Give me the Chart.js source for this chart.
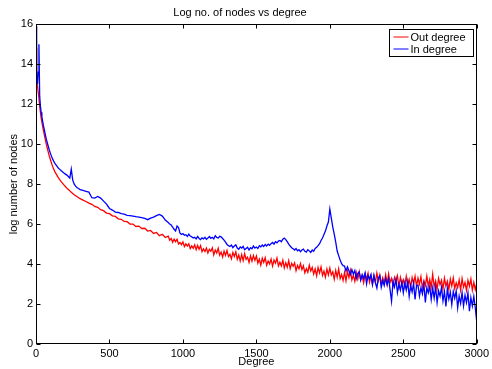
<!DOCTYPE html>
<html>
<head>
<meta charset="utf-8">
<script src="https://cdn.jsdelivr.net/npm/chart.js@4.4.0/dist/chart.umd.min.js"></script>
<style>
  html, body { margin: 0; padding: 0; background: #fff; }
  #wrap { width: 492px; height: 369px; }
</style>
</head>
<body>
<div id="wrap"><canvas id="chart" width="492" height="369"></canvas></div>
<script>
// --- data ---
const degrees = [
  1,3,6,10,15,20,25,30,35,40,50,60,70,80,90,100,110,120,130,140,150,160,170,180,190,200,
  210,220,230,240,250,260,270,280,290,300,
  320,340,360,380,400,420,440,460,480,500,
  520,540,560,580,600,620,640,660,680,700,
  720,740,760,780,800,820,840,860,880,
  900,910,920,930,940,950,960,970,980,990,
  1000,1010,1020,1030,1040,1050,1060,1070,1080,1090,
  1100,1110,1120,1130,1140,1150,1160,1170,1180,1190,
  1200,1210,1220,1230,1240,1250,1260,1270,1280,1290,
  1300,1310,1320,1330,1340,1350,1360,1370,1380,1390,
  1400,1410,1420,1430,1440,1450,1460,1470,1480,1490,
  1500,1510,1520,1530,1540,1550,1560,1570,1580,1590,
  1600,1610,1620,1630,1640,1650,1660,1670,1680,1690,
  1700,1710,1720,1730,1740,1750,1760,1770,1780,1790,
  1800,1810,1820,1830,1840,1850,1860,1870,1880,1890,
  1900,1910,1920,1930,1940,1950,1960,1970,1980,1990,
  2000,2010,2020,2030,2040,2050,2060,2070,2080,2090,
  2100,2110,2120,2130,2140,2150,2160,2170,2180,2190,
  2200,2210,2220,2230,2240,2250,2260,2270,2280,2290,
  2300,2310,2320,2330,2340,2350,2360,2370,2380,2390,
  2400,2410,2420,2430,2440,2450,2460,2470,2480,2490,
  2500,2510,2520,2530,2540,2550,2560,2570,2580,2590,
  2600,2610,2620,2630,2640,2650,2660,2670,2680,2690,
  2700,2710,2720,2730,2740,2750,2760,2770,2780,2790,
  2800,2810,2820,2830,2840,2850,2860,2870,2880,2890,
  2900,2910,2920,2930,2940,2950,2960,2970,2980,2990,
  3000
];

const outDegree = [
  14.8,13.8,13.1,12.9,12.6,12.3,11.9,11.6,11.3,11.1,10.7,10.35,10.0,9.7,9.42,9.18,8.95,8.75,8.6,8.47,8.35,8.24,8.14,8.05,7.96,7.88,
  7.8,7.73,7.66,7.59,7.53,7.47,7.42,7.37,7.32,7.27,
  7.20,7.13,7.05,6.99,6.88,6.84,6.72,6.67,6.55,6.52,
  6.41,6.38,6.26,6.24,6.13,6.12,6.00,6.00,5.88,5.90,
  5.78,5.79,5.65,5.68,5.53,5.58,5.42,5.49,5.33,
  5.40,5.19,5.28,5.09,5.25,5.12,5.24,5.00,5.08,4.97,
  5.11,4.87,5.01,4.90,5.01,4.77,4.91,4.79,4.96,4.72,
  4.93,4.74,4.92,4.62,4.76,4.63,4.80,4.55,4.74,4.64,
  4.81,4.46,4.70,4.55,4.79,4.44,4.60,4.35,4.65,4.43,
  4.68,4.37,4.49,4.26,4.58,4.38,4.61,4.24,4.45,4.15,
  4.47,4.17,4.52,4.23,4.34,4.08,4.41,4.14,4.42,4.18,
  4.40,4.04,4.24,3.95,4.29,4.08,4.32,3.94,4.15,4.00,
  4.25,3.90,4.20,4.04,4.30,3.91,4.09,3.91,4.19,3.81,
  4.07,3.84,4.17,3.77,4.04,3.89,4.06,3.67,3.93,3.76,
  4.02,3.72,3.91,3.56,3.77,3.59,3.94,3.65,3.83,3.50,
  3.76,3.41,3.83,3.56,3.86,3.43,3.65,3.35,3.75,3.46,
  3.80,3.45,3.61,3.24,3.68,3.34,3.75,3.27,3.48,3.18,
  3.58,3.16,3.64,3.33,3.68,3.21,3.45,3.14,3.57,3.25,
  3.62,3.22,3.40,3.06,3.50,3.26,3.54,3.09,3.40,2.99,
  3.40,3.08,3.55,3.16,3.45,2.99,3.31,3.07,3.47,2.99,
  3.51,3.08,3.28,2.92,3.33,3.13,3.41,2.86,3.33,3.00,
  3.21,2.88,3.38,2.94,3.23,2.83,3.32,3.02,3.39,2.90,
  3.30,3.00,3.37,2.81,3.15,2.93,3.40,2.88,3.22,2.83,
  3.49,2.86,3.16,2.75,3.28,2.96,3.19,2.75,3.29,2.89,
  3.14,2.72,3.25,2.90,3.30,2.78,3.06,2.82,3.21,2.70,
  3.27,2.85,3.08,2.68,3.18,2.89,3.25,2.69,3.08,2.72,
  3.05
];

const inDegree = [
  15.9,14.2,13.3,13.0,13.6,15.0,12.4,11.9,11.6,11.35,10.95,10.6,10.25,9.98,9.72,9.5,9.3,9.15,9.02,8.92,8.82,8.75,8.68,8.62,8.55,8.5,
  8.45,8.38,8.3,8.75,8.2,8.0,7.9,7.82,7.78,7.72,
  7.68,7.64,7.60,7.32,7.30,7.38,7.30,7.15,7.00,6.78,
  6.70,6.60,6.58,6.52,6.50,6.44,6.42,6.40,6.37,6.35,
  6.32,6.28,6.22,6.30,6.35,6.42,6.48,6.40,6.20,
  6.08,6.00,5.95,5.85,5.74,5.66,5.90,5.82,5.55,5.48,
  5.52,5.44,5.47,5.38,5.50,5.40,5.36,5.30,5.34,5.26,
  5.38,5.28,5.22,5.31,5.26,5.34,5.24,5.30,5.38,5.29,
  5.34,5.26,5.42,5.33,5.30,5.39,5.36,5.28,5.20,5.10,
  4.98,4.92,4.88,4.95,4.82,4.90,4.96,4.80,4.74,4.86,
  4.80,4.88,4.72,4.78,4.84,4.70,4.82,4.76,4.90,4.80,
  4.85,4.78,4.92,4.86,4.95,4.88,4.98,4.90,5.00,4.94,
  5.02,5.08,5.00,5.12,5.06,5.15,5.18,5.12,5.24,5.30,
  5.22,5.12,5.00,4.90,4.82,4.76,4.70,4.78,4.66,4.72,
  4.62,4.70,4.75,4.64,4.60,4.72,4.66,4.58,4.70,4.64,
  4.78,4.84,4.92,5.02,5.18,5.30,5.48,5.65,5.90,6.10,
  6.75,6.30,5.85,5.50,5.10,4.65,4.42,4.20,4.02,3.92,
  3.90,3.65,3.86,3.67,3.48,3.72,3.50,3.68,3.27,3.53,
  3.61,3.19,3.47,3.29,3.55,3.00,3.43,3.26,3.48,2.98,
  3.44,3.07,2.80,3.30,3.41,2.84,3.17,2.92,3.29,2.97,
  3.28,2.71,2.14,3.12,2.85,3.24,2.57,2.99,2.69,3.10,
  2.57,3.06,2.70,3.12,2.38,2.92,2.60,3.04,2.23,2.91,
  2.95,2.39,2.82,2.51,3.00,2.08,2.82,2.56,2.89,2.23,
  2.80,2.30,2.84,2.07,2.66,2.39,2.83,2.16,2.62,1.88,
  2.77,2.25,2.59,1.97,2.63,2.29,2.66,1.81,2.40,2.03,
  2.57,1.90,2.44,2.07,2.56,1.64,2.32,1.90,2.38,1.80,
  1.10
];

const seriesLabels = ['Out degree', 'In degree'];
const xTicks = [0, 500, 1000, 1500, 2000, 2500, 3000];
const yTicks = [0, 2, 4, 6, 8, 10, 12, 14, 16];

const FONT = '"Liberation Sans", Arial, Helvetica, sans-serif';

function toPoints(xs, ys) {
  return xs.map((x, i) => ({ x: x, y: ys[i] }));
}

// box, inward ticks and legend, matlab style
const matlabFrame = {
  id: 'matlabFrame',
  afterDatasetsDraw(chart) {
    const ctx = chart.ctx;
    const a = chart.chartArea;
    const xs = chart.scales.x, ys = chart.scales.y;
    const L = Math.round(a.left) + 0.5, R = Math.round(a.right) - 0.5;
    const T = Math.round(a.top) + 0.5, B = Math.round(a.bottom) - 0.5;
    ctx.save();
    ctx.strokeStyle = '#000';
    ctx.lineWidth = 1;
    ctx.strokeRect(L, T, R - L, B - T);
    ctx.beginPath();
    xTicks.forEach(v => {
      const px = Math.round(xs.getPixelForValue(v)) + 0.5;
      ctx.moveTo(px, B); ctx.lineTo(px, B - 4);
      ctx.moveTo(px, T); ctx.lineTo(px, T + 4);
    });
    yTicks.forEach(v => {
      const py = Math.round(ys.getPixelForValue(v)) + 0.5;
      ctx.moveTo(L, py); ctx.lineTo(L + 4, py);
      ctx.moveTo(R, py); ctx.lineTo(R - 4, py);
    });
    ctx.stroke();

    // legend
    const bx = R - 87, by = T + 5, bw = 84, bh = 27;
    ctx.fillStyle = '#fff';
    ctx.fillRect(bx, by, bw, bh);
    ctx.strokeRect(bx, by, bw, bh);
    ctx.font = '11px ' + FONT;
    ctx.textBaseline = 'middle';
    chart.data.datasets.forEach((ds, i) => {
      const ly = by + 7.5 + i * 12;
      ctx.strokeStyle = ds.borderColor;
      ctx.beginPath();
      ctx.moveTo(bx + 4, ly); ctx.lineTo(bx + 19, ly);
      ctx.stroke();
      ctx.fillStyle = '#000';
      ctx.fillText(ds.label, bx + 21, ly + 0.5);
    });
    ctx.restore();
  }
};

new Chart(document.getElementById('chart'), {
  type: 'line',
  data: {
    datasets: [
      { label: seriesLabels[0], data: toPoints(degrees, outDegree), borderColor: '#ff0000',
        borderWidth: 1.3, pointRadius: 0, tension: 0, order: 2 },
      { label: seriesLabels[1], data: toPoints(degrees, inDegree), borderColor: '#0000ff',
        borderWidth: 1.3, pointRadius: 0, tension: 0, order: 1 }
    ]
  },
  options: {
    responsive: false,
    animation: false,
    devicePixelRatio: 1,
    layout: { padding: { left: 0, right: 12, top: 0, bottom: 0 } },
    plugins: {
      legend: { display: false },
      tooltip: { enabled: false },
      title: {
        display: true,
        text: 'Log no. of nodes vs degree',
        color: '#000',
        font: { family: FONT, size: 11, weight: 'normal' },
        padding: { top: 6, bottom: 5 }
      }
    },
    scales: {
      x: {
        type: 'linear',
        min: 0, max: 3000,
        afterFit(s) { s.height = 25; },
        afterBuildTicks(s) { s.ticks = xTicks.map(v => ({ value: v })); },
        grid: { display: false, drawTicks: false },
        border: { display: false },
        ticks: { color: '#000', font: { family: FONT, size: 11 }, padding: 3, maxRotation: 0,
                 callback: v => String(v) },
        title: { display: true, text: 'Degree', color: '#000',
                 font: { family: FONT, size: 11 }, padding: { top: 0, bottom: 0 } }
      },
      y: {
        type: 'linear',
        min: 0, max: 16,
        afterFit(s) { s.width = 36; },
        afterBuildTicks(s) { s.ticks = yTicks.map(v => ({ value: v })); },
        grid: { display: false, drawTicks: false },
        border: { display: false },
        ticks: { color: '#000', font: { family: FONT, size: 11 }, padding: 3,
                 callback: v => String(v) },
        title: { display: true, text: 'log number of nodes', color: '#000',
                 font: { family: FONT, size: 11 }, padding: { top: 7, bottom: 0 } }
      }
    }
  },
  plugins: [matlabFrame]
});
</script>
</body>
</html>
